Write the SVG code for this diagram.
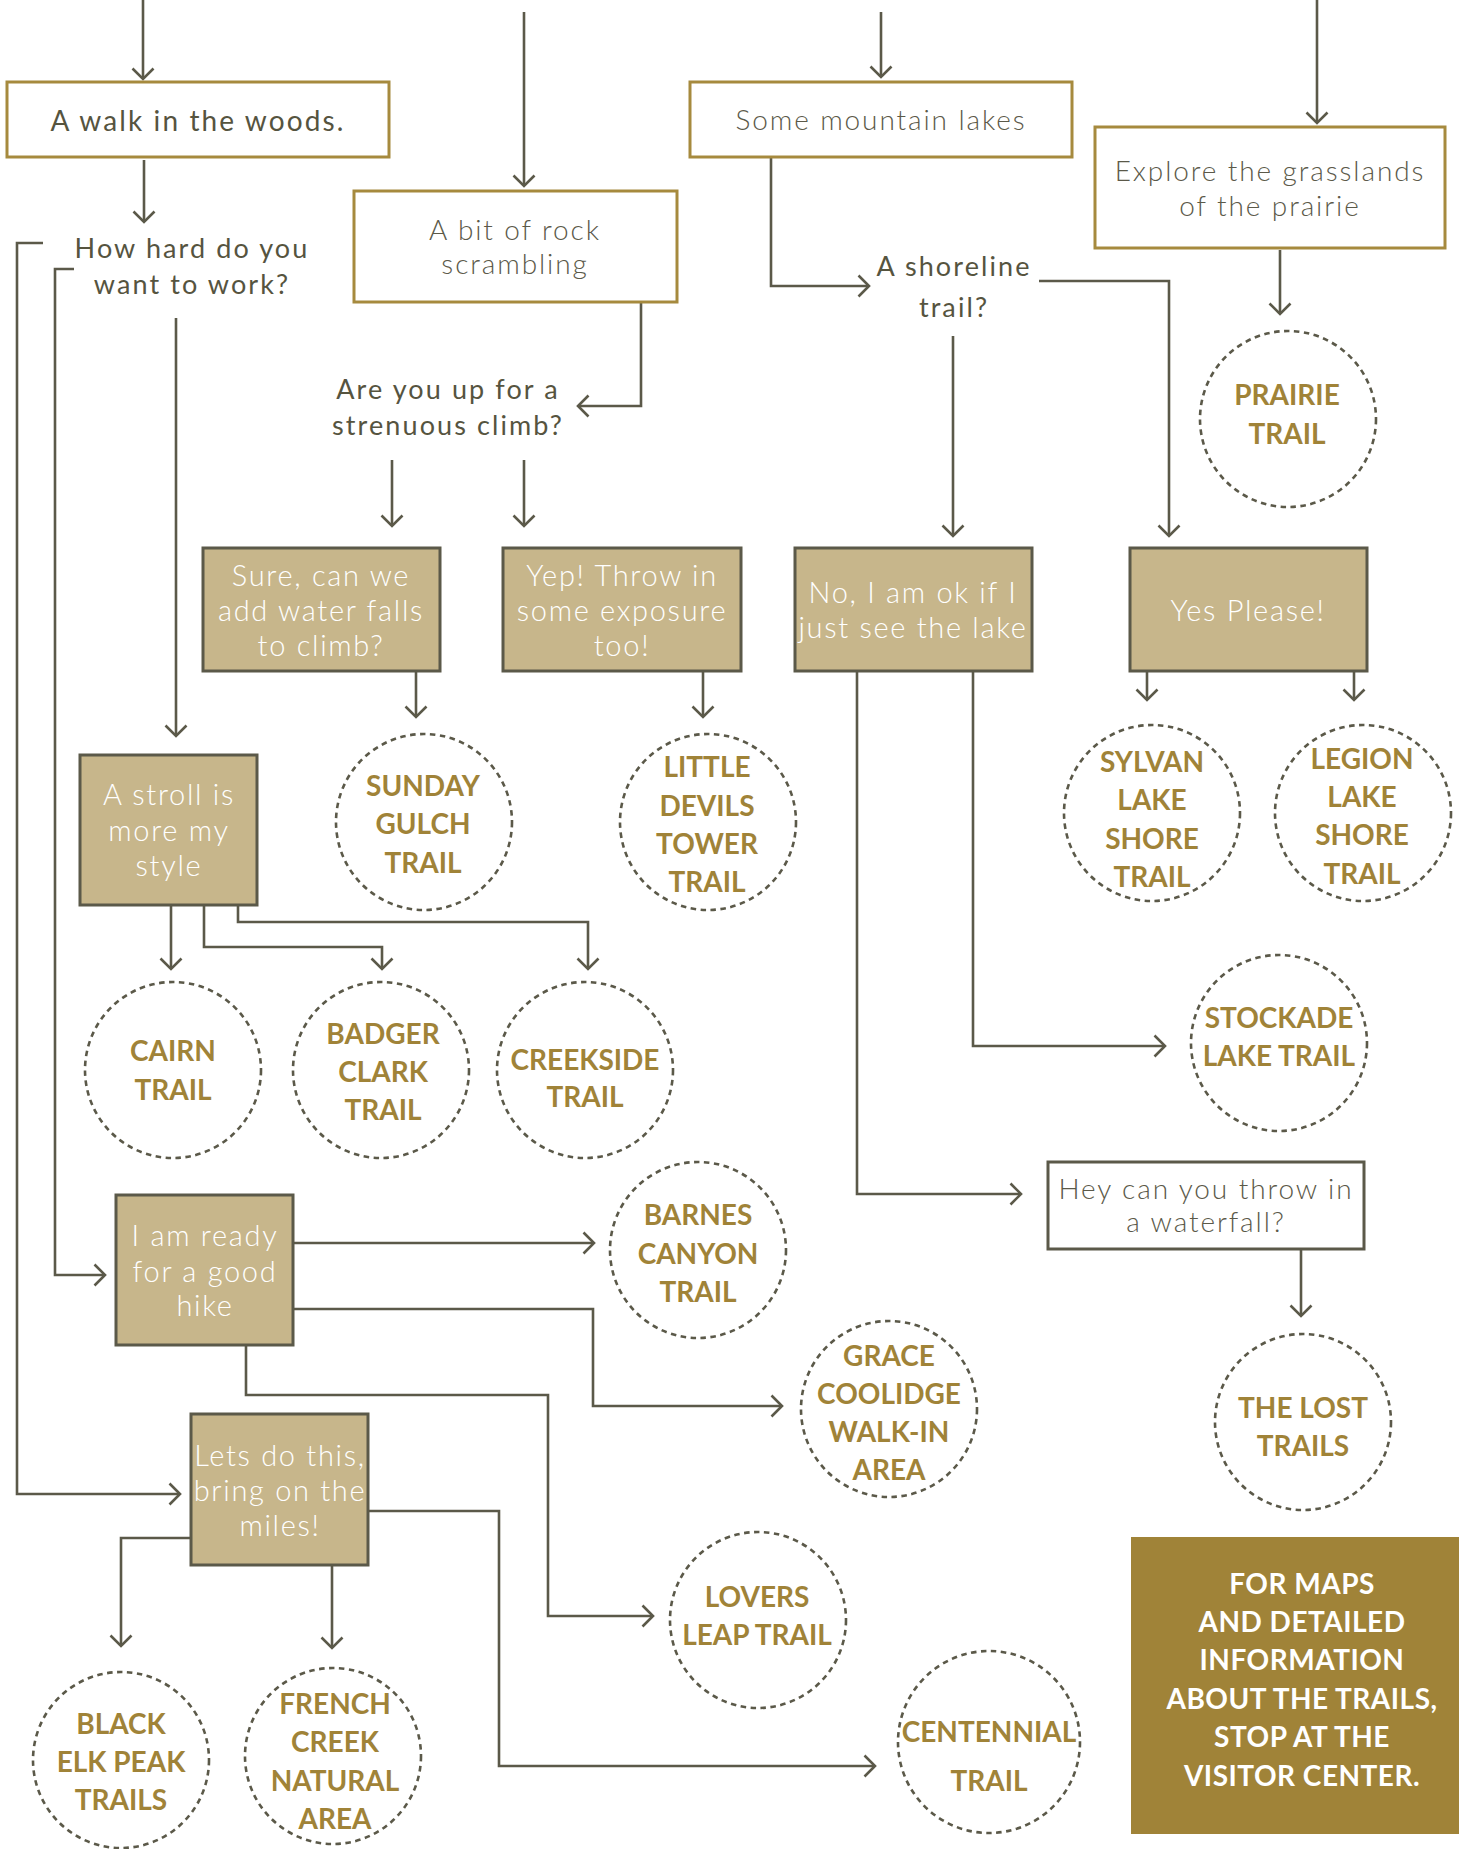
<svg xmlns="http://www.w3.org/2000/svg" width="1459" height="1849" viewBox="0 0 1459 1849">
<defs>
<marker id="ah" markerUnits="userSpaceOnUse" viewBox="0 0 14 24" refX="12" refY="12" markerWidth="14" markerHeight="24" orient="auto">
<path d="M1.5,1.5 L12,12 L1.5,22.5" fill="none" stroke="#5b5949" stroke-width="2.6"/>
</marker>
<style>
.ob{fill:#fff;stroke:#a68a3e;stroke-width:3}
.hb{fill:#fff;stroke:#5b5949;stroke-width:3}
.fb{fill:#c7b68b;stroke:#5b5949;stroke-width:3}
.ci{fill:#fff;stroke:#5b5949;stroke-width:2.6;stroke-dasharray:5.5 4.5}
.cn path{fill:none;stroke:#5b5949;stroke-width:2.6;marker-end:url(#ah)}
text{font-family:Lato,"Open Sans","Liberation Sans",sans-serif;text-anchor:middle}
.q{font-size:27px;fill:#56543f;letter-spacing:2.1px}
.lt{font-size:28px;font-weight:300;fill:#5b5949;letter-spacing:1.9px}
.wt{font-size:29px;font-weight:300;fill:#fff;letter-spacing:1.7px}
.tr{font-size:28px;font-weight:700;fill:#a08338}
.ft{font-size:28px;font-weight:700;fill:#fff;letter-spacing:0.5px}
</style>
</defs>

<g id="connectors" class="cn">
<path d="M143,0 V79"/>
<path d="M524,12 V186"/>
<path d="M881,12 V77"/>
<path d="M1317,0 V123"/>
<path d="M144,160 V222"/>
<path d="M43,243 H17 V1494 H180"/>
<path d="M74,269 H55 V1275 H105"/>
<path d="M176,318 V736"/>
<path d="M641,302 V406 H578"/>
<path d="M392,460 V526"/>
<path d="M524,460 V526"/>
<path d="M771,157 V286 H869"/>
<path d="M1039,281 H1169 V536"/>
<path d="M953,336 V536"/>
<path d="M1280,250 V314"/>
<path d="M416,671 V717"/>
<path d="M703,671 V717"/>
<path d="M1147,671 V700"/>
<path d="M1354,671 V700"/>
<path d="M171,905 V969"/>
<path d="M204,905 V947 H382 V969"/>
<path d="M238,905 V922 H588 V969"/>
<path d="M973,671 V1046 H1165"/>
<path d="M857,671 V1194 H1021"/>
<path d="M1301,1249 V1316"/>
<path d="M293,1243 H594"/>
<path d="M293,1309 H593 V1406 H782"/>
<path d="M246,1345 V1395 H548 V1616 H653"/>
<path d="M368,1511 H499 V1766 H875"/>
<path d="M191,1538 H121 V1646"/>
<path d="M332,1565 V1648"/>
</g>

<g id="walk"><rect class="ob" x="7" y="82" width="382" height="75"/><text class="q" x="198" y="131" style="font-size:28px">A walk in the woods.</text></g>
<g id="rock"><rect class="ob" x="354" y="191" width="323" height="111"/><text class="lt" x="515" y="240">A bit of rock</text><text class="lt" x="515" y="274">scrambling</text></g>
<g id="mountain"><rect class="ob" x="690" y="82" width="382" height="75"/><text class="lt" x="881" y="130">Some mountain lakes</text></g>
<g id="explore"><rect class="ob" x="1095" y="127" width="350" height="121"/><text class="lt" x="1270" y="181">Explore the grasslands</text><text class="lt" x="1270" y="216">of the prairie</text></g>

<g id="howhard"><text class="q" x="192" y="258">How hard do you</text><text class="q" x="192" y="294">want to work?</text></g>
<g id="strenuous"><text class="q" x="448" y="399">Are you up for a</text><text class="q" x="448" y="435">strenuous climb?</text></g>
<g id="shoreline"><text class="q" x="954" y="276">A shoreline</text><text class="q" x="954" y="317">trail?</text></g>

<g id="sure"><rect class="fb" x="203" y="548" width="237" height="123"/><text class="wt" x="321" y="586">Sure, can we</text><text class="wt" x="321" y="621">add water falls</text><text class="wt" x="321" y="656">to climb?</text></g>
<g id="yep"><rect class="fb" x="503" y="548" width="238" height="123"/><text class="wt" x="622" y="586">Yep! Throw in</text><text class="wt" x="622" y="621">some exposure</text><text class="wt" x="622" y="656">too!</text></g>
<g id="no"><rect class="fb" x="795" y="548" width="237" height="123"/><text class="wt" x="913" y="603">No, I am ok if I</text><text class="wt" x="913" y="638">just see the lake</text></g>
<g id="yes"><rect class="fb" x="1130" y="548" width="237" height="123"/><text class="wt" x="1248" y="621">Yes Please!</text></g>
<g id="stroll"><rect class="fb" x="80" y="755" width="177" height="150"/><text class="wt" x="169" y="805">A stroll is</text><text class="wt" x="169" y="841">more my</text><text class="wt" x="169" y="876">style</text></g>
<g id="ready"><rect class="fb" x="116" y="1195" width="177" height="150"/><text class="wt" x="205" y="1246">I am ready</text><text class="wt" x="205" y="1282">for a good</text><text class="wt" x="205" y="1316">hike</text></g>
<g id="lets"><rect class="fb" x="191" y="1414" width="177" height="151"/><text class="wt" x="280" y="1466">Lets do this,</text><text class="wt" x="280" y="1501">bring on the</text><text class="wt" x="280" y="1536">miles!</text></g>
<g id="hey"><rect class="hb" x="1048" y="1162" width="316" height="87"/><text class="lt" x="1206" y="1199">Hey can you throw in</text><text class="lt" x="1206" y="1232">a waterfall?</text></g>

<g id="prairie"><circle class="ci" cx="1288" cy="419" r="88"/><text class="tr" x="1287" y="405">PRAIRIE</text><text class="tr" x="1287" y="444">TRAIL</text></g>
<g id="sunday"><circle class="ci" cx="424" cy="822" r="88"/><text class="tr" x="423" y="796">SUNDAY</text><text class="tr" x="423" y="834">GULCH</text><text class="tr" x="423" y="873">TRAIL</text></g>
<g id="littledevils"><circle class="ci" cx="708" cy="822" r="88"/><text class="tr" x="707" y="777">LITTLE</text><text class="tr" x="707" y="816">DEVILS</text><text class="tr" x="707" y="854">TOWER</text><text class="tr" x="707" y="892">TRAIL</text></g>
<g id="sylvan"><circle class="ci" cx="1152" cy="813" r="88"/><text class="tr" x="1152" y="772">SYLVAN</text><text class="tr" x="1152" y="810">LAKE</text><text class="tr" x="1152" y="849">SHORE</text><text class="tr" x="1152" y="887">TRAIL</text></g>
<g id="legion"><circle class="ci" cx="1363" cy="813" r="88"/><text class="tr" x="1362" y="769">LEGION</text><text class="tr" x="1362" y="807">LAKE</text><text class="tr" x="1362" y="845">SHORE</text><text class="tr" x="1362" y="884">TRAIL</text></g>
<g id="cairn"><circle class="ci" cx="173" cy="1070" r="88"/><text class="tr" x="173" y="1061">CAIRN</text><text class="tr" x="173" y="1100">TRAIL</text></g>
<g id="badger"><circle class="ci" cx="381" cy="1070" r="88"/><text class="tr" x="383" y="1044">BADGER</text><text class="tr" x="383" y="1082">CLARK</text><text class="tr" x="383" y="1120">TRAIL</text></g>
<g id="creekside"><circle class="ci" cx="585" cy="1070" r="88"/><text class="tr" x="585" y="1070">CREEKSIDE</text><text class="tr" x="585" y="1107">TRAIL</text></g>
<g id="stockade"><circle class="ci" cx="1279" cy="1043" r="88"/><text class="tr" x="1279" y="1028">STOCKADE</text><text class="tr" x="1279" y="1066">LAKE TRAIL</text></g>
<g id="barnes"><circle class="ci" cx="698" cy="1250" r="88"/><text class="tr" x="698" y="1225">BARNES</text><text class="tr" x="698" y="1264">CANYON</text><text class="tr" x="698" y="1302">TRAIL</text></g>
<g id="grace"><circle class="ci" cx="889" cy="1409" r="88"/><text class="tr" x="889" y="1366">GRACE</text><text class="tr" x="889" y="1404">COOLIDGE</text><text class="tr" x="889" y="1442">WALK-IN</text><text class="tr" x="889" y="1480">AREA</text></g>
<g id="lost"><circle class="ci" cx="1303" cy="1422" r="88"/><text class="tr" x="1303" y="1418">THE LOST</text><text class="tr" x="1303" y="1456">TRAILS</text></g>
<g id="lovers"><circle class="ci" cx="758" cy="1620" r="88"/><text class="tr" x="757" y="1607">LOVERS</text><text class="tr" x="757" y="1645">LEAP TRAIL</text></g>
<g id="blackelk"><circle class="ci" cx="121" cy="1760" r="88"/><text class="tr" x="121" y="1734">BLACK</text><text class="tr" x="121" y="1772">ELK PEAK</text><text class="tr" x="121" y="1810">TRAILS</text></g>
<g id="french"><circle class="ci" cx="333" cy="1756" r="88"/><text class="tr" x="335" y="1714">FRENCH</text><text class="tr" x="335" y="1752">CREEK</text><text class="tr" x="335" y="1791">NATURAL</text><text class="tr" x="335" y="1829">AREA</text></g>
<g id="centennial"><circle class="ci" cx="989" cy="1742" r="91"/><text class="tr" x="989" y="1742">CENTENNIAL</text><text class="tr" x="989" y="1791">TRAIL</text></g>

<g id="footer"><rect x="1131" y="1537" width="328" height="297" fill="#a08338"/>
<text class="ft" x="1302" y="1594">FOR MAPS</text><text class="ft" x="1302" y="1632">AND DETAILED</text><text class="ft" x="1302" y="1670">INFORMATION</text><text class="ft" x="1302" y="1709">ABOUT THE TRAILS,</text><text class="ft" x="1302" y="1747">STOP AT THE</text><text class="ft" x="1302" y="1786">VISITOR CENTER.</text></g>
</svg>
